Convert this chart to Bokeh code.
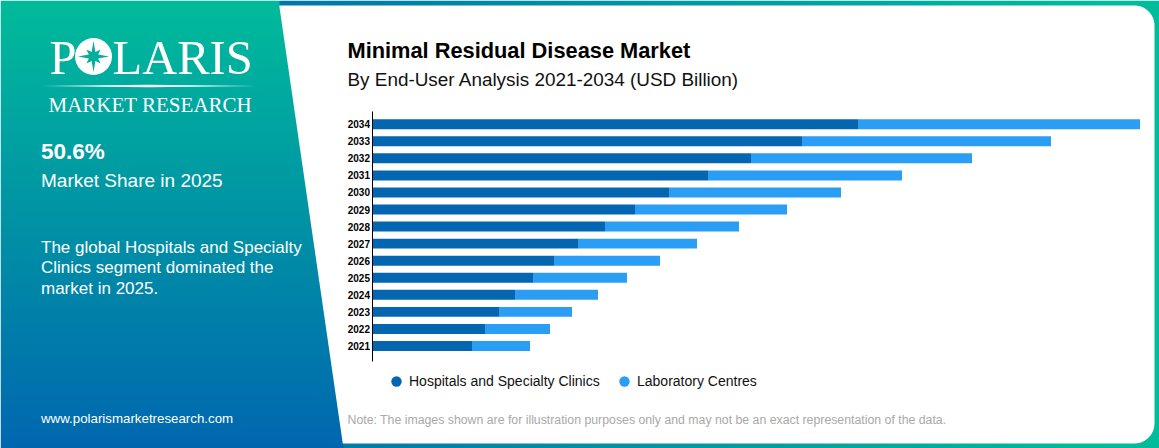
import numpy as np
from bokeh.core.properties import value
from bokeh.embed import file_html
from bokeh.resources import INLINE
from bokeh.models import Range1d, LinearAxis, FixedTicker, NumeralTickFormatter, Legend, LegendItem
from bokeh.plotting import figure

# ---- data (USD billion) ----
years = [2021, 2022, 2023, 2024, 2025, 2026, 2027, 2028, 2029, 2030, 2031, 2032, 2033, 2034]
hospitals = [0.99, 1.12, 1.26, 1.42, 1.60, 1.81, 2.05, 2.32, 2.62, 2.96, 3.35, 3.78, 4.29, 4.85]
laboratory = [0.58, 0.65, 0.73, 0.83, 0.94, 1.06, 1.19, 1.34, 1.52, 1.72, 1.94, 2.21, 2.49, 2.82]
series_names = ["Hospitals and Specialty Clinics", "Laboratory Centres"]
series_colors = ["#0466B1", "#2A9DF4"]

title = "Minimal Residual Disease Market"
subtitle = "By End-User Analysis 2021-2034 (USD Billion)"
note = "Note: The images shown are for illustration purposes only and may not be an exact representation of the data."
website = "www.polarismarketresearch.com"
stat = "50.6%"
stat_label = "Market Share in 2025"
blurb = ["The global Hospitals and Specialty", "Clinics segment dominated the", "market in 2025."]

W, H = 1159, 448
SANS = "Liberation Sans"
SERIF = "Liberation Serif"

p = figure(width=W, height=H, output_backend="svg", toolbar_location=None,
           x_range=Range1d(-372.5 / 100, (W - 372.5) / 100),
           y_range=Range1d(2021 - (448 - 345.5) / 17.06, 2034 + 123.7 / 17.06),
           x_axis_location=None, y_axis_location=None, min_border=0,
           outline_line_color=None, background_fill_color=None, border_fill_color=None)
p.grid.visible = False
p.extra_x_ranges["px"] = Range1d(0, W)
p.extra_y_ranges["py"] = Range1d(H, 0)
p.extra_y_ranges["iy"] = Range1d(0, H)
PX = dict(x_range_name="px", y_range_name="py")

# ---- backdrop: gradient panel, gradient strips, white card ----
top_c = np.array([0, 188, 155.0])
bot_c = np.array([0, 103, 176.0])
strip_l = np.array([0, 118, 170.0])
yy, xx = np.mgrid[0:H, 0:W]
ty = (yy / float(H))[..., None]
tx = np.clip((xx - 278) / 822.0, 0, 1)[..., None]
rgb = top_c * (1 - ty) + bot_c * ty
strip = strip_l * (1 - tx) + top_c * tx
mask = xx > 278 + yy * (65 / 448.0)
rgb = np.where(mask[..., None], strip, rgb)
img = np.zeros((H, W), dtype=np.uint32)
v = img.view(dtype=np.uint8).reshape((H, W, 4))
v[..., 0:3] = rgb[::-1].astype(np.uint8)
v[..., 3] = 255
p.image_rgba(image=[img], x=0, y=0, dw=W, dh=H, x_range_name="px", y_range_name="iy")

L, T, R, B, rad = 278, 5, 1154, 443, 20
a1 = np.linspace(-np.pi / 2, 0, 12)
a2 = np.linspace(0, np.pi / 2, 12)
cx = [L + T * 65 / 448.0] + list(R - rad + rad * np.cos(a1)) + list(R - rad + rad * np.cos(a2)) + [L + B * 65 / 448.0]
cy = [T] + list(T + rad + rad * np.sin(a1)) + list(B - rad + rad * np.sin(a2)) + [B]
p.patch(cx, cy, fill_color="white", line_color=None, **PX)

# ---- logo ----
def txt(x, y, s, size, font=SANS, color="white", style="normal"):
    p.text(x=[x], y=[y], text=[s], text_font=value(font), text_font_size=f"{size}px", text_color=color,
           text_font_style=style, text_align="left", text_baseline="middle", **PX)

txt(49, 56.5, "P", 48.5, SERIF)
txt(112, 56.5, "LARIS", 48.5, SERIF)
p.scatter(x=[93], y=[56], size=37, marker="circle", fill_color="white", line_color=None, **PX)
ang = np.arange(16) * np.pi / 8
rr = np.array([15.5, 5, 10, 5] * 4)
p.patch(93 + rr * np.sin(ang), 56 - rr * np.cos(ang), fill_color="#05AD9C", line_color=None, **PX)
p.patch([41, 148, 256, 148], [85.5, 84.3, 85.5, 86.7], fill_color="white", line_color=None, **PX)
txt(48, 104, "MARKET RESEARCH", 21, SERIF)

# ---- left-panel text ----
txt(40.5, 151, stat, 22.5, style="bold")
txt(40.5, 180, stat_label, 19)
for y0, line in zip([247, 267, 288], blurb):
    txt(40.5, y0, line, 17)
txt(40.5, 418, website, 13.3)

# ---- titles ----
txt(347, 50, title, 21.8, style="bold", color="#000000")
txt(347, 79, subtitle, 18.9, color="#111111")
txt(347, 419, note, 12.3, color="#A9A9A9")

# ---- bars ----
h = np.array(hospitals)
l = np.array(laboratory)
p.hbar(y=years, left=0, right=h, height=0.585, fill_color=series_colors[0], line_color=None)
p.hbar(y=years, left=h, right=h + l, height=0.585, fill_color=series_colors[1], line_color=None)

ax = LinearAxis(ticker=FixedTicker(ticks=years), formatter=NumeralTickFormatter(format="0"),
                fixed_location=-0.01, bounds=(2020.12, 2034.76),
                major_tick_line_color=None, minor_tick_line_color=None,
                axis_line_color="#000000", axis_line_width=1,
                major_label_text_font=SANS, major_label_text_font_size="10px",
                major_label_text_font_style="bold", major_label_text_color="#000000",
                major_label_standoff=-4)
p.add_layout(ax, "left")

# ---- legend (one per series: the gaps around the two dots differ) ----
leg_x = [383, 611]
for name, col, lx in zip(series_names, series_colors, leg_x):
    r = p.scatter(x=[float("nan")], y=[float("nan")], size=10, marker="circle", fill_color=col, line_color=None)
    leg = Legend(items=[LegendItem(label=name, renderers=[r])], orientation="horizontal",
                 location=(lx, 54), margin=0, padding=0, label_standoff=0,
                 glyph_width=26, glyph_height=26,
                 label_text_font=SANS, label_text_font_size="14px", label_text_color="#111111",
                 background_fill_alpha=0, border_line_color=None)
    p.add_layout(leg, "center")

open("out.html", "w").write(file_html(p, INLINE))
